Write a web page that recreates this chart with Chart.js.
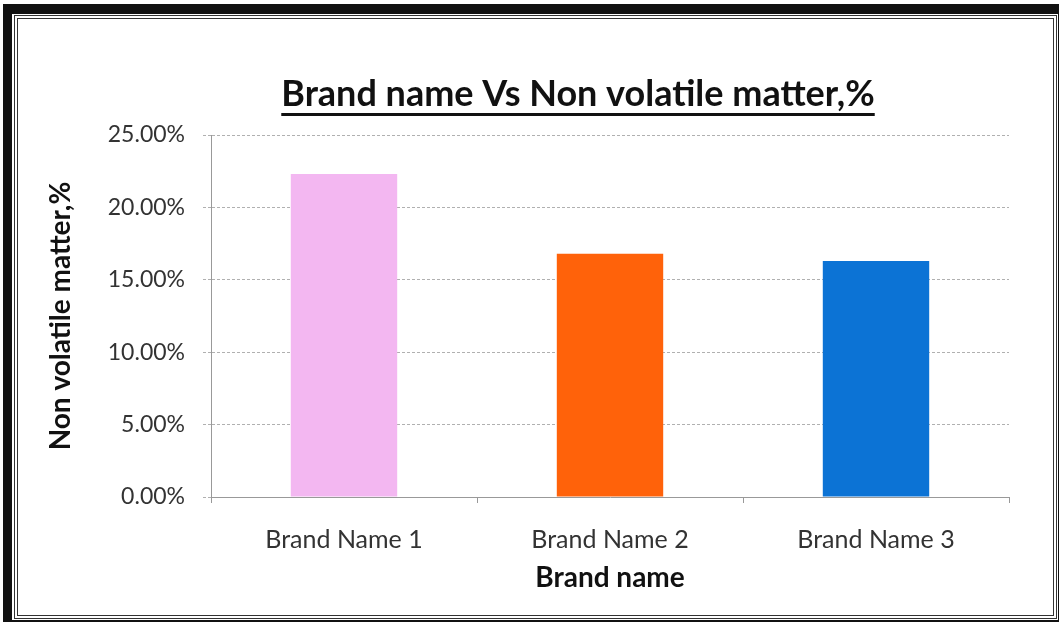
<!DOCTYPE html>
<html>
<head>
<meta charset="utf-8">
<title>Brand name Vs Non volatile matter</title>
<script src="https://cdn.jsdelivr.net/npm/chart.js@4.4.1/dist/chart.umd.min.js"></script>
<style>
  html, body { margin: 0; padding: 0; background: #fff; }
  #wrap { position: relative; width: 1059px; height: 623px; overflow: hidden; }
  #wrap canvas { position: absolute; left: 0; top: 0; }
  .frame { position: absolute; pointer-events: none; box-sizing: border-box; }
  #outer { left: 3px; top: 4px; width: 1057px; height: 618px; border-style: solid; border-color: #111; border-width: 10px 2px 2px 9px; }
  #inner { left: 14px; top: 15px; width: 1043px; height: 604px; border: 4px double #333; }
</style>
</head>
<body>
<div id="wrap">
  <canvas id="nvmChart" width="1059" height="623"></canvas>
  <div class="frame" id="outer"></div>
  <div class="frame" id="inner"></div>
</div>
<script>
var brands = ['Brand Name 1', 'Brand Name 2', 'Brand Name 3'];
var nonVolatile = [0.223, 0.168, 0.163];
var barColors = ['#f3b7f1', '#ff620a', '#0c73d5'];
var yTicks = [0, 0.05, 0.10, 0.15, 0.20, 0.25];

var chartTitle = 'Brand name Vs Non volatile matter,%';
var fontFamily = 'Lato, "Open Sans", sans-serif';

// excel-style underlined chart title
var underlinedTitle = {
    id: 'underlinedTitle',
    afterDraw: function(chart) {
        var ctx = chart.ctx,
            cx = 578,
            cy = 94;
        ctx.save();
        ctx.font = 'bold 36px ' + fontFamily;
        ctx.fillStyle = '#111';
        ctx.textAlign = 'center';
        ctx.textBaseline = 'middle';
        ctx.fillText(chartTitle, cx, cy);
        var w = ctx.measureText(chartTitle).width;
        ctx.fillRect(cx - w / 2, cy + 19, w, 3);
        ctx.restore();
    }
};

new Chart(document.getElementById('nvmChart').getContext('2d'), {
    type: 'bar',
    data: {
        labels: brands,
        datasets: [{
            label: 'Non volatile matter,%',
            data: nonVolatile,
            backgroundColor: barColors,
            borderWidth: 0,
            categoryPercentage: 1,
            barPercentage: 0.4
        }]
    },
    options: {
        responsive: false,
        animation: false,
        layout: {
            padding: { top: 135, left: 34, right: 50, bottom: 28 }
        },
        plugins: {
            legend: { display: false },
            tooltip: { enabled: false },
            title: { display: false }
        },
        scales: {
            x: {
                offset: true,
                grid: {
                    offset: true,
                    drawOnChartArea: false,
                    drawTicks: true,
                    tickLength: 6,
                    color: '#999'
                },
                border: { display: true, color: '#999', dash: [3, 2] },
                ticks: {
                    padding: 22,
                    color: '#333',
                    font: { family: fontFamily, size: 25 }
                },
                title: {
                    display: true,
                    text: 'Brand name',
                    color: '#111',
                    padding: { top: 0, bottom: 0 },
                    font: { family: fontFamily, size: 28, weight: 'bold' }
                },
                afterFit: function(scale) {
                    scale.height = 98;
                }
            },
            y: {
                min: 0,
                max: 0.25,
                afterBuildTicks: function(scale) {
                    scale.ticks = yTicks.map(function(v) {
                        return { value: v };
                    });
                },
                grid: {
                    color: '#b0b0b0',
                    tickLength: 8,
                    tickBorderDash: [3, 2],
                    borderDash: [3, 2]
                },
                border: { display: true, color: '#999', dash: [3, 2] },
                ticks: {
                    padding: 18,
                    color: '#333',
                    font: { family: fontFamily, size: 23 },
                    callback: function(v) {
                        return (v * 100).toFixed(2) + '%';
                    }
                },
                title: {
                    display: true,
                    text: 'Non volatile matter,%',
                    color: '#111',
                    padding: { top: 10, bottom: 0 },
                    font: { family: fontFamily, size: 28, weight: 'bold' }
                },
                afterFit: function(scale) {
                    scale.width = 177;
                }
            }
        }
    },
    plugins: [underlinedTitle]
});
</script>
</body>
</html>
